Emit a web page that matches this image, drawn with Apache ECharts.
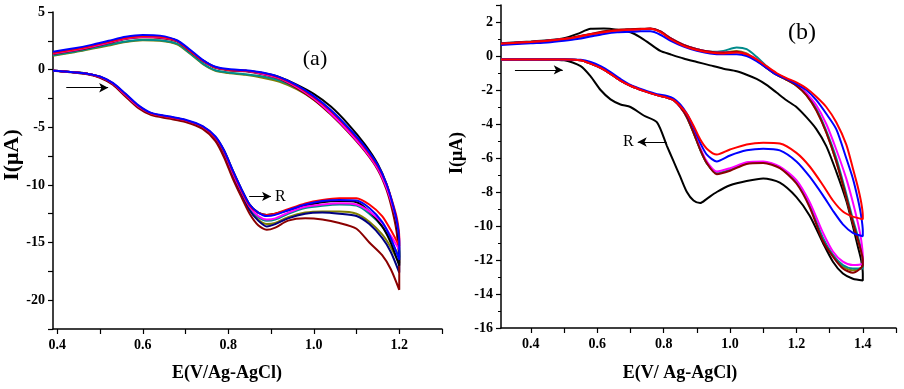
<!DOCTYPE html>
<html>
<head>
<meta charset="utf-8">
<script src="https://cdn.jsdelivr.net/npm/echarts@6/dist/echarts.min.js"></script>
<style>
html, body { margin: 0; padding: 0; background: #fff; }
#chart { width: 904px; height: 389px; }
</style>
</head>
<body>
<div id="chart"></div>
<script>
// panel (a): potential goes out 0.39 -> 1.2 then back to 0.39
const potA = [0.39, 0.43, 0.47, 0.5, 0.53, 0.56, 0.59, 0.62, 0.66, 0.7, 0.74, 0.77, 0.79, 0.81, 0.83, 0.85, 0.87, 0.89, 0.91, 0.94, 0.98, 1.02, 1.06, 1.1, 1.13, 1.16, 1.18, 1.2,
    1.2, 1.195, 1.185, 1.17, 1.15, 1.12, 1.08, 1.04, 1.0, 0.96, 0.92, 0.88, 0.84, 0.8, 0.77, 0.74, 0.71, 0.68, 0.64, 0.6, 0.56, 0.52, 0.48, 0.44, 0.39];
const aDarkred = [-0.1, -0.22, -0.4, -0.7, -1.3, -2.35, -3.35, -3.95, -4.25, -4.55, -5.15, -6.2, -7.6, -9.4, -11.0, -12.5, -13.5, -13.9, -13.7, -13.1, -12.9, -13.0, -13.3, -13.8, -15.0, -16.1, -17.3, -19.1,
    -17.0, -14.4, -12.4, -10.4, -8.7, -7.1, -5.4, -3.9, -2.6, -1.6, -0.8, -0.4, -0.15, -0.05, 0.15, 0.75, 1.6, 2.45, 2.75, 2.8, 2.65, 2.3, 1.95, 1.65, 1.35];
const aNavy = [-0.1, -0.2, -0.36, -0.66, -1.25, -2.25, -3.25, -3.85, -4.15, -4.45, -5.05, -6.0, -7.3, -9.1, -10.7, -12.2, -13.1, -13.6, -13.4, -12.9, -12.5, -12.4, -12.5, -12.7, -13.4, -14.6, -15.8, -17.6,
    -16.2, -14.0, -12.1, -10.1, -8.4, -6.8, -5.1, -3.6, -2.4, -1.45, -0.75, -0.35, -0.1, 0.0, 0.2, 0.8, 1.65, 2.5, 2.8, 2.85, 2.7, 2.35, 2.0, 1.7, 1.4];
const aOlive = [-0.1, -0.2, -0.35, -0.65, -1.2, -2.2, -3.2, -3.85, -4.15, -4.45, -5.0, -6.0, -7.2, -9.0, -10.6, -12.1, -13.0, -13.4, -13.3, -12.8, -12.4, -12.3, -12.3, -12.5, -13.2, -14.3, -15.4, -16.8,
    -15.8, -13.7, -12.0, -10.1, -8.5, -6.9, -5.2, -3.8, -2.6, -1.7, -1.05, -0.7, -0.45, -0.3, -0.1, 0.5, 1.4, 2.2, 2.5, 2.55, 2.4, 2.1, 1.8, 1.5, 1.2];
const aTeal = [-0.1, -0.2, -0.35, -0.65, -1.2, -2.2, -3.2, -3.8, -4.1, -4.4, -5.0, -5.9, -7.1, -8.9, -10.5, -12.0, -12.8, -13.1, -13.0, -12.5, -12.0, -11.8, -11.7, -11.8, -12.5, -13.6, -14.8, -16.3,
    -15.2, -13.4, -11.8, -10.0, -8.4, -6.8, -5.1, -3.7, -2.5, -1.6, -0.95, -0.6, -0.4, -0.25, -0.05, 0.55, 1.45, 2.25, 2.55, 2.6, 2.45, 2.15, 1.85, 1.55, 1.25];
const aMagenta = [-0.1, -0.2, -0.35, -0.63, -1.2, -2.2, -3.2, -3.8, -4.1, -4.4, -4.95, -5.9, -7.1, -8.9, -10.5, -11.9, -12.7, -13.0, -12.9, -12.4, -11.9, -11.7, -11.6, -11.7, -12.3, -13.3, -14.4, -15.6,
    -14.8, -13.3, -11.9, -10.2, -8.6, -7.0, -5.3, -3.8, -2.5, -1.5, -0.75, -0.35, -0.1, 0.0, 0.2, 0.8, 1.65, 2.5, 2.8, 2.85, 2.7, 2.35, 2.0, 1.7, 1.4];
const aBlack = [-0.1, -0.2, -0.35, -0.62, -1.2, -2.15, -3.15, -3.8, -4.1, -4.4, -4.95, -5.85, -7.0, -8.7, -10.3, -11.7, -12.4, -12.6, -12.5, -12.2, -11.8, -11.5, -11.4, -11.5, -12.3, -13.6, -15.0, -17.0,
    -15.8, -13.6, -11.8, -9.9, -8.2, -6.5, -4.7, -3.2, -2.1, -1.3, -0.65, -0.3, -0.1, 0.0, 0.2, 0.8, 1.65, 2.5, 2.85, 2.9, 2.75, 2.4, 2.05, 1.75, 1.45];
const aRed = [-0.1, -0.2, -0.35, -0.62, -1.18, -2.15, -3.15, -3.8, -4.1, -4.4, -4.95, -5.9, -7.1, -8.8, -10.4, -11.8, -12.4, -12.6, -12.5, -12.1, -11.6, -11.3, -11.15, -11.15, -11.7, -12.7, -13.9, -15.3,
    -14.6, -13.0, -11.6, -9.9, -8.4, -6.8, -5.1, -3.6, -2.4, -1.4, -0.7, -0.3, -0.1, 0.0, 0.2, 0.8, 1.65, 2.5, 2.85, 2.9, 2.75, 2.4, 2.05, 1.75, 1.45];
const aBlue = [-0.1, -0.2, -0.35, -0.6, -1.15, -2.1, -3.1, -3.75, -4.05, -4.35, -4.9, -5.8, -7.0, -8.7, -10.3, -11.7, -12.4, -12.7, -12.6, -12.2, -11.7, -11.4, -11.3, -11.35, -12.0, -13.2, -14.6, -16.5,
    -15.0, -13.3, -11.7, -9.9, -8.3, -6.7, -5.0, -3.5, -2.3, -1.35, -0.65, -0.25, -0.05, 0.05, 0.25, 0.85, 1.75, 2.55, 2.95, 3.0, 2.85, 2.5, 2.15, 1.85, 1.55];

// panel (b): potential goes out 0.31 -> 1.4 then back to 0.31
const potB = [0.31, 0.4, 0.5, 0.55, 0.58, 0.61, 0.64, 0.67, 0.7, 0.74, 0.78, 0.81, 0.83, 0.85, 0.87, 0.89, 0.91, 0.93, 0.96, 1.0, 1.05, 1.1, 1.15, 1.2, 1.24, 1.28, 1.31, 1.34, 1.37, 1.4,
    1.4, 1.395, 1.385, 1.37, 1.35, 1.32, 1.29, 1.26, 1.23, 1.2, 1.17, 1.14, 1.11, 1.08, 1.05, 1.02, 0.98, 0.94, 0.9, 0.86, 0.82, 0.79, 0.76, 0.73, 0.7, 0.66, 0.62, 0.58, 0.54, 0.5, 0.45, 0.4, 0.31];
const bBlack = [-0.2, -0.2, -0.25, -0.6, -1.2, -2.0, -2.55, -2.85, -3.0, -3.5, -3.9, -5.3, -6.2, -7.1, -8.0, -8.5, -8.65, -8.4, -8.0, -7.6, -7.35, -7.2, -7.45, -8.3, -9.4, -11.0, -12.1, -12.8, -13.1, -13.2,
    -12.8, -12.0, -11.2, -10.0, -8.5, -6.8, -5.3, -4.3, -3.6, -3.0, -2.6, -2.15, -1.7, -1.35, -1.1, -0.9, -0.75, -0.55, -0.35, -0.15, 0.1, 0.3, 0.7, 1.1, 1.4, 1.55, 1.62, 1.6, 1.3, 1.05, 0.92, 0.85, 0.75];
const bOlive = [-0.2, -0.2, -0.2, -0.25, -0.45, -0.7, -1.05, -1.45, -1.75, -2.05, -2.3, -2.45, -2.6, -3.0, -3.6, -4.5, -5.5, -6.3, -6.9, -6.7, -6.3, -6.25, -6.55, -7.4, -8.8, -10.8, -11.7, -12.4, -12.6, -12.4,
    -12.1, -11.5, -10.8, -9.8, -8.3, -6.2, -4.5, -3.2, -2.3, -1.75, -1.4, -1.1, -0.7, -0.25, 0.15, 0.3, 0.2, 0.25, 0.4, 0.65, 1.05, 1.45, 1.6, 1.58, 1.55, 1.5, 1.4, 1.25, 1.1, 0.98, 0.88, 0.8, 0.7];
const bTeal = [-0.2, -0.2, -0.2, -0.25, -0.45, -0.7, -1.05, -1.45, -1.75, -2.05, -2.3, -2.45, -2.6, -3.0, -3.6, -4.5, -5.5, -6.3, -6.9, -6.7, -6.3, -6.25, -6.55, -7.4, -8.8, -10.7, -11.7, -12.3, -12.5, -12.5,
    -12.0, -11.4, -10.6, -9.6, -8.1, -6.0, -4.4, -3.1, -2.2, -1.7, -1.35, -1.05, -0.6, -0.05, 0.4, 0.5, 0.3, 0.25, 0.4, 0.65, 1.05, 1.45, 1.6, 1.58, 1.55, 1.5, 1.4, 1.25, 1.1, 0.98, 0.88, 0.8, 0.7];
const bMagenta = [-0.2, -0.2, -0.2, -0.25, -0.45, -0.7, -1.05, -1.45, -1.75, -2.05, -2.3, -2.45, -2.6, -3.0, -3.55, -4.4, -5.4, -6.2, -6.8, -6.6, -6.25, -6.2, -6.5, -7.3, -8.6, -10.4, -11.5, -12.1, -12.3, -12.2,
    -11.8, -10.8, -9.8, -8.6, -7.2, -5.5, -4.0, -2.9, -2.2, -1.7, -1.35, -1.05, -0.65, -0.2, 0.1, 0.25, 0.2, 0.25, 0.4, 0.65, 1.05, 1.45, 1.6, 1.58, 1.55, 1.5, 1.4, 1.28, 1.12, 1.0, 0.9, 0.82, 0.72];
const bDarkred = [-0.2, -0.2, -0.2, -0.25, -0.45, -0.7, -1.05, -1.45, -1.75, -2.05, -2.3, -2.45, -2.6, -3.0, -3.6, -4.5, -5.5, -6.3, -6.95, -6.75, -6.35, -6.3, -6.6, -7.5, -8.9, -10.9, -11.8, -12.5, -12.75, -12.3,
    -12.0, -11.5, -10.8, -9.8, -8.3, -6.2, -4.5, -3.2, -2.3, -1.75, -1.4, -1.1, -0.7, -0.25, 0.1, 0.25, 0.2, 0.25, 0.4, 0.65, 1.05, 1.45, 1.62, 1.6, 1.58, 1.55, 1.45, 1.3, 1.15, 1.0, 0.9, 0.82, 0.72];
const bBlue = [-0.2, -0.2, -0.2, -0.22, -0.35, -0.6, -0.95, -1.35, -1.7, -2.0, -2.25, -2.35, -2.5, -2.85, -3.4, -4.2, -5.1, -5.8, -6.2, -5.85, -5.55, -5.45, -5.55, -6.2, -7.1, -8.2, -9.1, -9.9, -10.4, -10.6,
    -10.3, -9.4, -8.4, -7.2, -6.0, -4.3, -3.4, -2.6, -2.0, -1.65, -1.35, -1.1, -0.7, -0.3, 0.0, 0.1, 0.1, 0.15, 0.3, 0.55, 0.9, 1.25, 1.45, 1.45, 1.42, 1.4, 1.3, 1.15, 1.0, 0.9, 0.8, 0.75, 0.65];
const bRed = [-0.2, -0.2, -0.2, -0.25, -0.45, -0.7, -1.05, -1.45, -1.75, -2.05, -2.3, -2.45, -2.6, -2.95, -3.4, -4.1, -4.9, -5.45, -5.8, -5.5, -5.2, -5.1, -5.15, -5.7, -6.5, -7.6, -8.5, -9.15, -9.45, -9.6,
    -9.4, -8.6, -7.7, -6.6, -5.2, -3.9, -3.0, -2.4, -1.9, -1.55, -1.3, -1.0, -0.6, -0.2, 0.1, 0.2, 0.15, 0.2, 0.35, 0.6, 1.0, 1.4, 1.6, 1.58, 1.55, 1.5, 1.4, 1.28, 1.12, 1.0, 0.9, 0.82, 0.72];

const ticksA = [0.4, 0.5, 0.6, 0.7, 0.8, 0.9, 1.0, 1.1, 1.2, 1.3];
const labelsA = [0.4, 0.6, 0.8, 1.0, 1.2];
const ticksB = [0.4, 0.5, 0.6, 0.7, 0.8, 0.9, 1.0, 1.1, 1.2, 1.3, 1.4, 1.5];
const labelsB = [0.4, 0.6, 0.8, 1.0, 1.2, 1.4];

const serif = '"Liberation Serif", "DejaVu Serif", serif';
const tickFont = { fontFamily: serif, fontWeight: 'bold', fontSize: 14, color: '#000' };

function curve(pot, vals, color, idx) {
    return {
        type: 'line',
        xAxisIndex: idx,
        yAxisIndex: idx,
        data: pot.map((e, i) => [e, vals[i]]),
        showSymbol: false,
        smooth: 0.25,
        lineStyle: { color: color, width: 2 },
        itemStyle: { color: color },
        z: 3
    };
}

function xAxis(idx, min, max, ticks, labels) {
    return {
        type: 'value',
        gridIndex: idx,
        min: min,
        max: max,
        axisLine: { onZero: false, lineStyle: { color: '#000', width: 1.5 } },
        axisTick: { customValues: ticks, length: 5, lineStyle: { color: '#000', width: 1.2 } },
        axisLabel: Object.assign({ customValues: labels, margin: 9, formatter: v => v.toFixed(1) }, tickFont),
        splitLine: { show: false }
    };
}

function arrow(pts, label) {
    return {
        silent: true,
        symbol: ['none', 'arrow'],
        symbolSize: [7, 9],
        lineStyle: { color: '#000', width: 1, type: 'solid' },
        label: {
            show: !!label,
            position: 'end',
            formatter: label || '',
            fontFamily: serif,
            fontSize: 16,
            color: '#000',
            distance: 4
        },
        data: [[{ coord: pts[0] }, { coord: pts[1] }]]
    };
}

const chart = echarts.init(document.getElementById('chart'));

let seriesA = [
    curve(potA, aOlive, '#808000', 0),
    curve(potA, aTeal, '#008b8b', 0),
    curve(potA, aNavy, '#000080', 0),
    curve(potA, aDarkred, '#8b0000', 0),
    curve(potA, aBlack, '#000000', 0),
    curve(potA, aMagenta, '#ff00ff', 0),
    curve(potA, aRed, '#ff0000', 0),
    curve(potA, aBlue, '#0000ff', 0)
];
seriesA[0].markLine = arrow([[0.421, -1.57], [0.519, -1.57]]);
seriesA[1].markLine = arrow([[0.849, -11.0], [0.9, -11.0]], 'R');

let seriesB = [
    curve(potB, bBlack, '#000000', 1),
    curve(potB, bOlive, '#808000', 1),
    curve(potB, bTeal, '#008b8b', 1),
    curve(potB, bMagenta, '#ff00ff', 1),
    curve(potB, bDarkred, '#8b0000', 1),
    curve(potB, bBlue, '#0000ff', 1),
    curve(potB, bRed, '#ff0000', 1)
];
seriesB[0].markLine = arrow([[0.352, -0.82], [0.496, -0.82]]);
seriesB[1].markLine = arrow([[0.809, -5.06], [0.722, -5.06]], 'R');

chart.setOption({
    animation: false,
    backgroundColor: '#fff',
    grid: [
        { left: 53, top: 12, width: 389, height: 317 },
        { left: 501, top: 5, width: 395, height: 323 }
    ],
    xAxis: [
        xAxis(0, 0.39, 1.3, ticksA, labelsA),
        xAxis(1, 0.31, 1.5, ticksB, labelsB)
    ],
    yAxis: [
        {
            type: 'value', gridIndex: 0, min: -22.5, max: 5, interval: 2.5,
            axisLine: { show: true, onZero: false, lineStyle: { color: '#000', width: 1.5 } },
            axisTick: { show: true, length: 5, lineStyle: { color: '#000', width: 1.2 } },
            axisLabel: Object.assign({ margin: 8, formatter: v => (v % 5 === 0 ? String(v) : '') }, tickFont),
            splitLine: { show: false }
        },
        {
            type: 'value', gridIndex: 1, min: -16, max: 3, interval: 2,
            axisLine: { show: true, onZero: false, lineStyle: { color: '#000', width: 1.5 } },
            axisTick: { show: true, length: 5, lineStyle: { color: '#000', width: 1.2 } },
            minorTick: { show: true, splitNumber: 2, length: 3, lineStyle: { color: '#000', width: 1 } },
            axisLabel: Object.assign({ margin: 8, formatter: v => (v > 2 ? '' : String(v)) }, tickFont),
            splitLine: { show: false }
        }
    ],
    graphic: [
        { type: 'text', x: 227, y: 373, style: { text: 'E(V/Ag-AgCl)', font: 'bold 18px ' + serif, fill: '#000', textAlign: 'center', textVerticalAlign: 'middle' } },
        { type: 'text', x: 680, y: 373, style: { text: 'E(V/ Ag-AgCl)', font: 'bold 18px ' + serif, fill: '#000', textAlign: 'center', textVerticalAlign: 'middle' } },
        { type: 'text', x: 12, y: 155, rotation: Math.PI / 2, style: { text: 'I(μA)', font: 'bold 22px ' + serif, fill: '#000', textAlign: 'center', textVerticalAlign: 'middle' } },
        { type: 'text', x: 457, y: 153, rotation: Math.PI / 2, style: { text: 'I(μA)', font: 'bold 18px ' + serif, fill: '#000', textAlign: 'center', textVerticalAlign: 'middle' } },
        { type: 'text', x: 315, y: 59, style: { text: '(a)', font: '22px ' + serif, fill: '#000', textAlign: 'center', textVerticalAlign: 'middle' } },
        { type: 'text', x: 802, y: 33, style: { text: '(b)', font: '24px ' + serif, fill: '#000', textAlign: 'center', textVerticalAlign: 'middle' } }
    ],
    series: seriesA.concat(seriesB)
});
</script>
</body>
</html>
